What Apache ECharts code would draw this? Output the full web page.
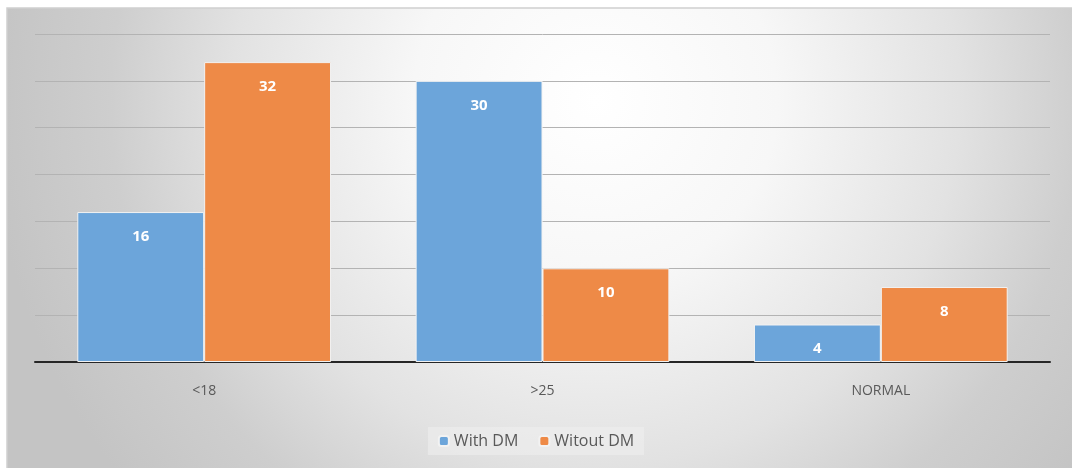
<!DOCTYPE html>
<html>
<head>
<meta charset="utf-8">
<script src="https://cdn.jsdelivr.net/npm/echarts@6/dist/echarts.min.js"></script>
<style>
  html, body { margin: 0; padding: 0; background: #fff; }
  #chart { width: 1072px; height: 468px; }
</style>
</head>
<body>
<div id="chart"></div>
<script>
  const categories = ['<18', '>25', 'NORMAL']
  const withDM = [16, 30, 4]
  const withoutDM = [32, 10, 8]
  const seriesNames = ['With DM', 'Witout DM']

  let myChart = echarts.init(document.getElementById('chart'))
  let labelStyle = {
    show: true,
    position: 'insideTop',
    distance: 17,
    color: '#fff',
    fontWeight: 'bold',
    fontSize: 15,
    fontFamily: 'Open Sans'
  }
  let option = {
    animation: false,
    color: ['#6CA5DA', '#EE8A47'],
    graphic: [{
      type: 'rect',
      z: -10,
      shape: { x: 7, y: 8, width: 1070, height: 465 },
      style: {
        stroke: '#cfcfcf',
        lineWidth: 1.5,
        fill: {
          type: 'radial', x: 0.55, y: 0.2, r: 1.3,
          colorStops: [
            { offset: 0, color: '#ffffff' },
            { offset: 0.3, color: '#f7f7f7' },
            { offset: 0.6, color: '#e2e2e2' },
            { offset: 0.8, color: '#cecece' },
            { offset: 1, color: '#c4c4c4' }
          ]
        }
      }
    }],
    grid: { left: 35, right: 22, top: 34, bottom: 106 },
    legend: {
      bottom: 13,
      left: 'center',
      itemWidth: 10,
      itemHeight: 10,
      itemGap: 20,
      padding: [6, 10],
      backgroundColor: 'rgba(238,238,238,0.6)',
      textStyle: { color: '#595959', fontSize: 16, fontFamily: 'Open Sans' },
      data: seriesNames
    },
    xAxis: {
      type: 'category',
      data: categories,
      axisLine: { lineStyle: { color: '#262626', width: 2 } },
      axisTick: { show: false },
      axisLabel: { color: '#595959', fontSize: 14, margin: 22, fontFamily: 'Open Sans' }
    },
    yAxis: {
      type: 'value',
      min: 0,
      max: 35,
      interval: 5,
      axisLabel: { show: false },
      axisLine: { show: false },
      axisTick: { show: false },
      splitLine: { lineStyle: { color: '#b3b3b3', width: 1 } }
    },
    series: [
      {
        name: seriesNames[0],
        type: 'bar',
        data: withDM,
        barGap: '0%',
        barCategoryGap: '25%',
        itemStyle: { color: '#6CA5DA', borderColor: '#f2f2f2', borderWidth: 1 },
        label: labelStyle
      },
      {
        name: seriesNames[1],
        type: 'bar',
        data: withoutDM,
        itemStyle: { color: '#EE8A47', borderColor: '#f2f2f2', borderWidth: 1 },
        label: labelStyle
      }
    ]
  }
  myChart.setOption(option)
</script>
</body>
</html>
